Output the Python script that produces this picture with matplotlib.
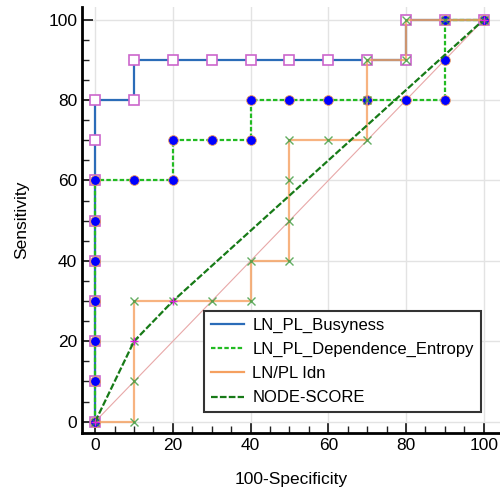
import matplotlib
matplotlib.use('Agg')
from matplotlib import pyplot as plt
from matplotlib.ticker import MultipleLocator

plt.rcParams['font.family'] = ['Liberation Sans', 'DejaVu Sans']

# ROC curve points (100-Specificity, Sensitivity)
busy_x = [0, 0, 0, 0, 0, 0, 0, 0, 0, 10, 10, 20, 30, 40, 50, 60, 70, 80, 80, 90, 100]
busy_y = [0, 10, 20, 30, 40, 50, 60, 70, 80, 80, 90, 90, 90, 90, 90, 90, 90, 90, 100, 100, 100]

entropy_x = [0, 0, 0, 0, 0, 0, 0, 10, 20, 20, 30, 40, 40, 50, 60, 70, 80, 90, 90, 90, 100]
entropy_y = [0, 10, 20, 30, 40, 50, 60, 60, 60, 70, 70, 70, 80, 80, 80, 80, 80, 80, 90, 100, 100]

idn_x = [0, 10, 10, 10, 10, 20, 30, 40, 40, 50, 50, 50, 50, 60, 70, 70, 70, 80, 80, 90, 100]
idn_y = [0, 0, 10, 20, 30, 30, 30, 30, 40, 40, 50, 60, 70, 70, 70, 80, 90, 90, 100, 100, 100]

node_x = [0, 10, 20, 100]
node_y = [0, 20, 30, 100]

labels = ['LN_PL_Busyness', 'LN_PL_Dependence_Entropy', 'LN/PL Idn', 'NODE-SCORE']

fig = plt.figure(figsize=(5, 4.93), dpi=100)
ax = fig.add_axes([0.164, 0.122, 0.836, 0.864])

ax.plot([0, 100], [0, 100], color='#e8a8a8', lw=0.8, zorder=1)

ax.plot(busy_x, busy_y, color='#2b6cb8', lw=1.6, marker='s', ms=6.5,
        mfc='white', mec='#cc66cc', mew=1.2, label=labels[0], zorder=2)
ax.plot(entropy_x, entropy_y, color='#22bb22', lw=1.6, ls=(0, (2, 1)), marker='o', ms=7,
        mfc='#0000ff', mec='#f0a060', mew=0.6, label=labels[1], zorder=3)
ax.plot(idn_x, idn_y, color='#f5a060', lw=1.6, alpha=0.8, marker='x', ms=6,
        mec='#3c9a3c', mew=1.0, label=labels[2], zorder=4)
ax.plot(node_x, node_y, color='#177a17', lw=1.6, ls=(0, (3, 1)), marker='+', ms=6,
        mec='#dd22dd', mew=1.0, label=labels[3], zorder=5)

ax.set_xlim(-3.4, 104.2)
ax.set_ylim(-2.8, 103.2)
ax.xaxis.set_major_locator(MultipleLocator(20))
ax.yaxis.set_major_locator(MultipleLocator(20))
ax.xaxis.set_minor_locator(MultipleLocator(5))
ax.yaxis.set_minor_locator(MultipleLocator(5))
ax.tick_params(which='both', direction='in', labelsize=12.5, color='#222222')
ax.tick_params(which='major', length=8, width=1.3)
ax.tick_params(which='minor', length=5, width=1.0)
ax.grid(True, which='major', color='#e3e3e3', lw=1.0)
ax.set_axisbelow(True)

for side in ['top', 'right']:
  ax.spines[side].set_visible(False)
for side in ['left', 'bottom']:
  ax.spines[side].set_linewidth(2)

ax.set_xlabel('100-Specificity', fontsize=12.5, labelpad=14)
ax.set_ylabel('Sensitivity', fontsize=12.5, labelpad=14)

leg = ax.legend(loc='upper left', bbox_to_anchor=(0.292, 0.286), borderaxespad=0,
                fontsize=12, fancybox=False, framealpha=1, edgecolor='#333333',
                handlelength=2.0, handletextpad=0.5, labelspacing=0.55, markerscale=0)
leg.get_frame().set_linewidth(1.5)
for line in leg.get_lines():
  line.set_marker('')
  line.set_alpha(1)

fig.savefig('out.png', dpi=100)
